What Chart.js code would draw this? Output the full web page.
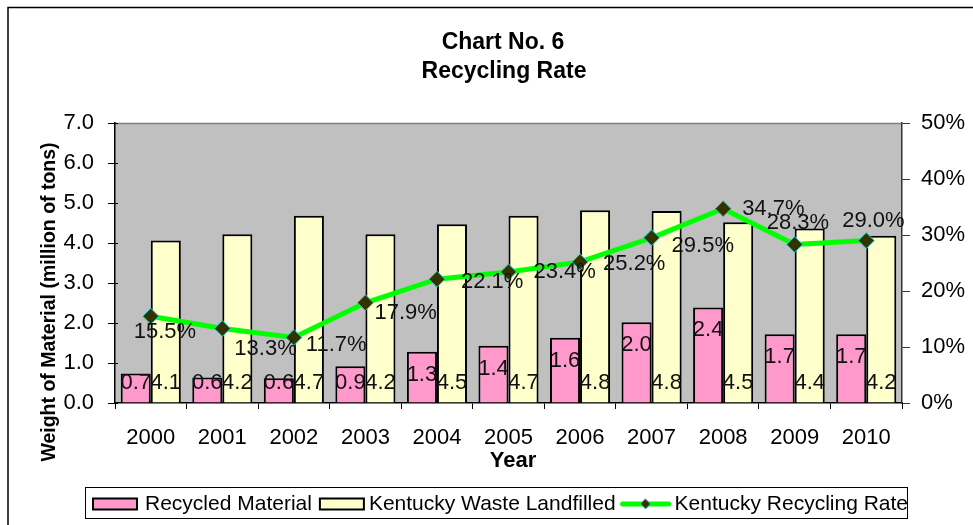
<!DOCTYPE html>
<html><head><meta charset="utf-8">
<script src="https://cdn.jsdelivr.net/npm/chart.js@4"></script>
<style>html,body{margin:0;padding:0;background:#fff;}canvas{display:block;}</style>
</head><body>
<canvas id="c" width="973" height="525"></canvas>
<script>
const years = ['2000','2001','2002','2003','2004','2005','2006','2007','2008','2009','2010'];
const recycled = [0.74,0.64,0.62,0.92,1.28,1.43,1.63,2.02,2.39,1.72,1.72];
const landfilled = [4.06,4.22,4.68,4.22,4.47,4.68,4.82,4.80,4.52,4.36,4.18];
const recyclingRate = [15.5,13.3,11.7,17.9,22.1,23.4,25.2,29.5,34.7,28.3,29.0];
const leftTickLabels = ['0.0','1.0','2.0','3.0','4.0','5.0','6.0','7.0'];
const rightTickLabels = ['0%','10%','20%','30%','40%','50%'];
const seriesNames = ['Recycled Material','Kentucky Waste Landfilled','Kentucky Recycling Rate'];
const titleLines = ['Chart No. 6','Recycling Rate'];
const xTitle = 'Year';
const yTitle = 'Weight of Material (million of tons)';

// label placement offsets for rate labels (dx to left edge, dy to center)
const rateLabelOffsets = [[-17,16],[12,20],[12,7],[9,10],[24,3],[25,0],[23,2],[20,8],[19,0],[-28,-22],[-24,-20]];

const FONT = '"Liberation Sans", Arial, sans-serif';
const PINK = '#FF99CC', YELLOW = '#FFFFCC', GREEN = '#00FF00';

const deco = {
  id: 'deco',
  beforeDraw(chart) {
    const {ctx, chartArea: a} = chart;
    ctx.save();
    ctx.fillStyle = '#fff'; ctx.fillRect(0, 0, chart.width, chart.height);
    ctx.fillStyle = '#C0C0C0'; ctx.fillRect(a.left, a.top, a.right - a.left, a.bottom - a.top);
    ctx.strokeStyle = '#808080'; ctx.lineWidth = 1.5;
    ctx.beginPath(); ctx.moveTo(a.left, a.top + 0.5); ctx.lineTo(a.right, a.top + 0.5); ctx.stroke();
    ctx.strokeStyle = '#000'; ctx.lineWidth = 1.5;
    ctx.beginPath(); ctx.moveTo(8, chart.height); ctx.lineTo(8, 7.5); ctx.lineTo(chart.width, 7.5); ctx.stroke();
    ctx.restore();
  },
  afterDatasetsDraw(chart) {
    const {ctx, chartArea: a} = chart;
    ctx.save();
    ctx.font = '22px ' + FONT;
    ctx.fillStyle = '#111';
    ctx.textBaseline = 'middle';
    ctx.textAlign = 'center';
    const m0 = chart.getDatasetMeta(0), m1 = chart.getDatasetMeta(1), m2 = chart.getDatasetMeta(2);
    m0.data.forEach((el, i) => {
      const y = Math.min(el.y + 23, el.base - 20);
      ctx.fillText(recycled[i].toFixed(1), el.x, y);
    });
    m1.data.forEach((el, i) => {
      ctx.fillText(landfilled[i].toFixed(1), el.x, el.base - 20);
    });
    ctx.textAlign = 'left';
    m2.data.forEach((el, i) => {
      const o = rateLabelOffsets[i];
      ctx.fillText(recyclingRate[i].toFixed(1) + '%', el.x + o[0], el.y + o[1]);
    });
    // inner part of left axis tick marks
    ctx.strokeStyle = '#000'; ctx.lineWidth = 1;
    const ys = chart.scales.y;
    ys.ticks.forEach(t => {
      const py = Math.round(ys.getPixelForValue(t.value)) + 0.5;
      ctx.beginPath(); ctx.moveTo(a.left, py); ctx.lineTo(a.left + 3, py); ctx.stroke();
    });
    ctx.restore();
  },
  afterDraw(chart) {
    const {ctx} = chart;
    ctx.save();
    ctx.fillStyle = '#000';
    ctx.textAlign = 'center'; ctx.textBaseline = 'middle';
    ctx.font = 'bold 23px ' + FONT;
    ctx.fillText(titleLines[0], 503, 43);
    ctx.fillText(titleLines[1], 504, 72);
    ctx.font = 'bold 22px ' + FONT;
    ctx.fillText(xTitle, 513, 461);
    ctx.save();
    ctx.translate(50, 302); ctx.rotate(-Math.PI / 2);
    ctx.font = 'bold 19.5px ' + FONT;
    ctx.fillText(yTitle, 0, 0);
    ctx.restore();
    // legend
    ctx.strokeStyle = '#000'; ctx.lineWidth = 1;
    ctx.strokeRect(85.5, 487.5, 822, 31);
    ctx.font = '21px ' + FONT;
    ctx.textAlign = 'left';
    const cy = 504;
    let x = 93;
    ctx.lineWidth = 2;
    ctx.fillStyle = PINK; ctx.fillRect(x, cy - 5.5, 44, 11); ctx.strokeRect(x, cy - 5.5, 44, 11);
    x += 52; ctx.fillStyle = '#000'; ctx.fillText(seriesNames[0], x, cy);
    x += ctx.measureText(seriesNames[0]).width + 8;
    ctx.fillStyle = YELLOW; ctx.fillRect(x, cy - 5.5, 44, 11); ctx.strokeRect(x, cy - 5.5, 44, 11);
    x += 49; ctx.fillStyle = '#000'; ctx.fillText(seriesNames[1], x, cy);
    x += ctx.measureText(seriesNames[1]).width + 5;
    ctx.strokeStyle = GREEN; ctx.lineWidth = 5; ctx.lineCap = 'round';
    ctx.beginPath(); ctx.moveTo(x + 2, cy); ctx.lineTo(x + 48, cy); ctx.stroke();
    const dx = x + 25;
    ctx.fillStyle = '#333300'; ctx.strokeStyle = '#33CCCC'; ctx.lineWidth = 1;
    ctx.beginPath(); ctx.moveTo(dx, cy - 5); ctx.lineTo(dx + 5, cy); ctx.lineTo(dx, cy + 5); ctx.lineTo(dx - 5, cy); ctx.closePath(); ctx.fill(); ctx.stroke();
    x += 54; ctx.fillStyle = '#000'; ctx.fillText(seriesNames[2], x, cy);
    ctx.restore();
  }
};

new Chart(document.getElementById('c'), {
  type: 'bar',
  data: {
    labels: years,
    datasets: [
      {label: seriesNames[0], data: recycled, backgroundColor: PINK, borderColor: '#000', borderWidth: 2, yAxisID: 'y', order: 2},
      {label: seriesNames[1], data: landfilled, backgroundColor: YELLOW, borderColor: '#000', borderWidth: 2, yAxisID: 'y', order: 2},
      {label: seriesNames[2], data: recyclingRate, type: 'line', yAxisID: 'y1', order: 0,
       borderColor: GREEN, borderWidth: 5, pointStyle: 'rectRot', pointRadius: 8, pointHoverRadius: 8,
       pointBackgroundColor: '#333300', pointBorderColor: '#33CCCC', pointBorderWidth: 1, tension: 0}
    ]
  },
  options: {
    responsive: false,
    animation: false,
    events: [],
    layout: {padding: {top: 123, left: 0, right: 0, bottom: 0}},
    datasets: {bar: {categoryPercentage: 0.84, barPercentage: 1.0}},
    plugins: {legend: {display: false}, title: {display: false}, tooltip: {enabled: false}},
    scales: {
      x: {
        offset: true,
        grid: {offset: true, drawOnChartArea: false, tickLength: 6, color: '#000', lineWidth: 1},
        border: {color: '#000', width: 1.5},
        ticks: {font: {family: FONT, size: 22}, color: '#000', padding: 16, maxRotation: 0, autoSkip: false},
        afterFit(s) { s.height = 122; }
      },
      y: {
        position: 'left', min: 0, max: 7,
        grid: {drawOnChartArea: false, tickLength: 7, color: '#000'},
        border: {color: '#000', width: 1.5},
        ticks: {stepSize: 1, font: {family: FONT, size: 22}, color: '#000', padding: 14,
                callback: (v, i) => leftTickLabels[i]},
        afterFit(s) { s.width = 115; }
      },
      y1: {
        position: 'right', min: 0, max: 50,
        grid: {drawOnChartArea: false, tickLength: 8, color: '#333'},
        border: {color: '#333', width: 1.5},
        ticks: {stepSize: 10, font: {family: FONT, size: 22}, color: '#000', padding: 11,
                callback: (v, i) => rightTickLabels[i]},
        afterFit(s) { s.width = 71; }
      }
    }
  },
  plugins: [deco]
});
</script>
</body></html>
